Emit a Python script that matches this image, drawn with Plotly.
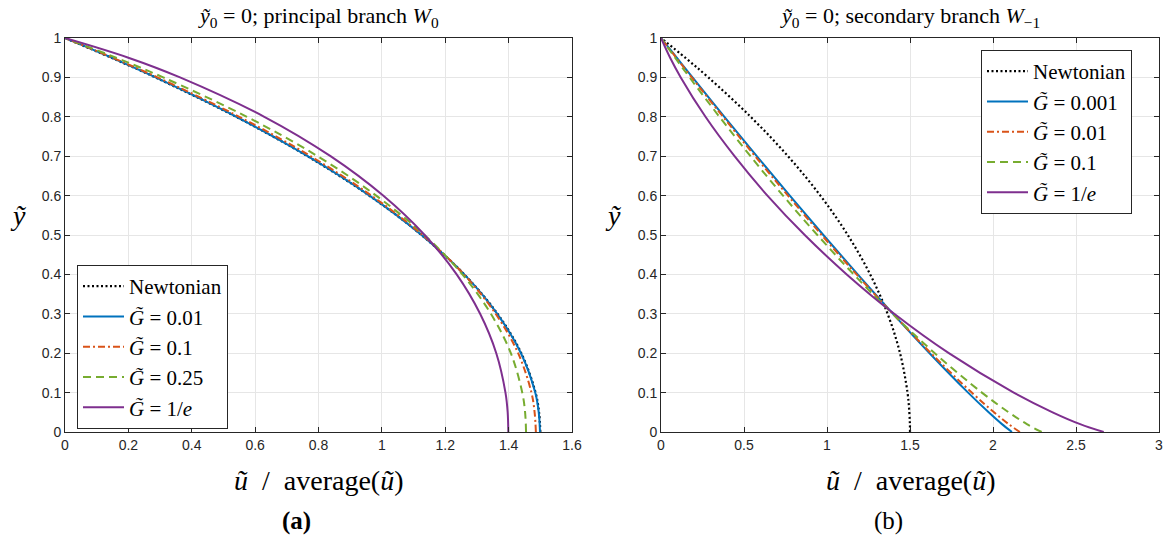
import plotly.graph_objects as go

# ---------------- data ----------------
# Panel (a): principal branch W0, values of u/avg(u) at the listed y
y_a = [0, 0.05, 0.1, 0.2, 0.3, 0.4, 0.5, 0.6, 0.7, 0.8, 0.9, 0.95, 1]
newt_a = [1.5, 1.496, 1.485, 1.44, 1.365, 1.26, 1.125, 0.96, 0.765, 0.54, 0.285, 0.146, 0]
g001_a = [1.499, 1.495, 1.484, 1.439, 1.364, 1.260, 1.125, 0.961, 0.766, 0.541, 0.286, 0.147, 0]
g01_a = [1.486, 1.482, 1.472, 1.430, 1.359, 1.259, 1.128, 0.967, 0.775, 0.550, 0.292, 0.150, 0]
g025_a = [1.455, 1.452, 1.443, 1.407, 1.344, 1.254, 1.134, 0.982, 0.797, 0.574, 0.310, 0.161, 0]
ge_a = [1.399, 1.397, 1.390, 1.361, 1.310, 1.236, 1.135, 1.004, 0.838, 0.629, 0.363, 0.200, 0]

# Panel (b): secondary branch W-1
y_b = [0, 0.02, 0.05, 0.1, 0.2, 0.3, 0.4, 0.5, 0.6, 0.7, 0.8, 0.9, 0.95, 1]
newt_b = [1.5, 1.4994, 1.496, 1.485, 1.44, 1.365, 1.26, 1.125, 0.96, 0.765, 0.54, 0.285, 0.146, 0]
g0001_b = [2.114, 2.054, 1.974, 1.850, 1.618, 1.398, 1.185, 0.978, 0.776, 0.577, 0.382, 0.190, 0.095, 0]
g001_b = [2.162, 2.094, 2.006, 1.872, 1.626, 1.397, 1.178, 0.968, 0.765, 0.567, 0.374, 0.185, 0.092, 0]
g01_b = [2.293, 2.204, 2.094, 1.933, 1.649, 1.395, 1.161, 0.942, 0.735, 0.539, 0.352, 0.172, 0.085, 0]
ge_b = [2.667, 2.525, 2.359, 2.125, 1.734, 1.405, 1.119, 0.866, 0.641, 0.443, 0.268, 0.119, 0.055, 0]

labels_a = ["Newtonian", "<i>G̃</i> = 0.01", "<i>G̃</i> = 0.1", "<i>G̃</i> = 0.25", "<i>G̃</i> = 1/<i>e</i>"]
labels_b = ["Newtonian", "<i>G̃</i> = 0.001", "<i>G̃</i> = 0.01", "<i>G̃</i> = 0.1", "<i>G̃</i> = 1/<i>e</i>"]

xticks_a = [0, 0.2, 0.4, 0.6, 0.8, 1, 1.2, 1.4, 1.6]
xticks_b = [0, 0.5, 1, 1.5, 2, 2.5, 3]
yticks = [0, 0.1, 0.2, 0.3, 0.4, 0.5, 0.6, 0.7, 0.8, 0.9, 1]

# ---------------- styling ----------------
W, H = 1169, 538
colors = ["#000000", "#0072BD", "#D95319", "#77AC30", "#7E2F8E"]
dashes = ["2px,2.5px", "solid", "7px,3px,2px,3px", "8px,5px", "solid"]
widths = [2.2, 2, 2, 2, 2]
SERIF = "Liberation Serif"
SANS = "Liberation Sans"

fig = go.Figure()

series_a = [newt_a, g001_a, g01_a, g025_a, ge_a]
series_b = [newt_b, g0001_b, g001_b, g01_b, ge_b]

for i, (u, lab) in enumerate(zip(series_a, labels_a)):
    fig.add_trace(go.Scatter(
        x=u, y=y_a, mode="lines", name=lab, xaxis="x", yaxis="y", legend="legend",
        line=dict(color=colors[i], dash=dashes[i], width=widths[i], shape="spline", smoothing=1.0)))

for i, (u, lab) in enumerate(zip(series_b, labels_b)):
    fig.add_trace(go.Scatter(
        x=u, y=y_b, mode="lines", name=lab, xaxis="x2", yaxis="y2", legend="legend2",
        line=dict(color=colors[i], dash=dashes[i], width=widths[i], shape="spline", smoothing=1.0)))

px_l_a, px_r_a = 65, 572
px_l_b, px_r_b = 661, 1159
px_t, px_b = 38, 432

axis_common = dict(
    showgrid=True, gridcolor="#e6e6e6", gridwidth=1,
    showline=True, linecolor="#262626", linewidth=1, mirror="ticks",
    ticks="inside", ticklen=5, tickcolor="#262626", tickwidth=1,
    zeroline=False, tickfont=dict(family=SANS, size=14, color="#262626"),
)

legend_common = dict(
    xanchor="left", yanchor="top", bgcolor="white", bordercolor="#262626", borderwidth=1,
    font=dict(family=SERIF, size=21, color="#000000"), tracegroupgap=0, itemwidth=41,
)

fig.update_layout(
    width=W, height=H,
    margin=dict(l=0, r=0, t=0, b=0, autoexpand=False),
    paper_bgcolor="white", plot_bgcolor="white",
    xaxis=dict(domain=[px_l_a / W, px_r_a / W], range=[0, 1.6], tickvals=xticks_a, anchor="y", **axis_common),
    yaxis=dict(domain=[1 - px_b / H, 1 - px_t / H], range=[0, 1], tickvals=yticks, anchor="x", **axis_common),
    xaxis2=dict(domain=[px_l_b / W, px_r_b / W], range=[0, 3], tickvals=xticks_b, anchor="y2", **axis_common),
    yaxis2=dict(domain=[1 - px_b / H, 1 - px_t / H], range=[0, 1], tickvals=yticks, anchor="x2", **axis_common),
    legend=dict(x=77 / W, y=1 - 265 / H, **legend_common),
    legend2=dict(x=981 / W, y=1 - 50 / H, **legend_common),
    showlegend=True,
)

def ann(text, x, y, size, **kw):
    fig.add_annotation(text=text, x=x / W, y=1 - y / H, xref="paper", yref="paper",
                       showarrow=False, xanchor="center", yanchor="middle",
                       font=dict(family=SERIF, size=size, color="#000000"), **kw)

ann("<i>ỹ</i><sub>0</sub> = 0; principal branch <i>W</i><sub>0</sub>", (px_l_a + px_r_a) / 2, 17, 22)
ann("<i>ỹ</i><sub>0</sub> = 0; secondary branch <i>W</i><sub>−1</sub>", (px_l_b + px_r_b) / 2, 17, 22)
ann("<i>ũ</i>  /  average(<i>ũ</i>)", (px_l_a + px_r_a) / 2, 480, 28)
ann("<i>ũ</i>  /  average(<i>ũ</i>)", (px_l_b + px_r_b) / 2, 480, 28)
ann("<i>ỹ</i>", 18, 216, 28)
ann("<i>ỹ</i>", 613, 216, 28)
ann("<b>(a)</b>", 296, 521, 25)
ann("(b)", 888, 521, 25)

fig.write_html("out.html")
